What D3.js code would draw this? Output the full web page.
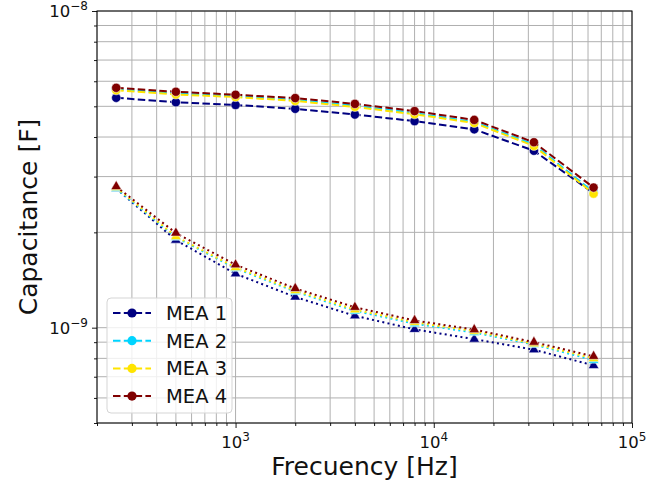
<!DOCTYPE html>
<html><head><meta charset="utf-8">
<script src="https://cdn.jsdelivr.net/npm/d3@7"></script>
<style>body{margin:0;background:#fff}svg{display:block;font-family:"DejaVu Sans",sans-serif}</style>
</head><body><svg id="c" width="648" height="482"></svg>
<script>
const frequencies = [250, 500, 1000, 2000, 4000, 8000, 16000, 32000, 64000];
const seriesNames = ["MEA 1", "MEA 2", "MEA 3", "MEA 4"];
const seriesColors = ["#000080", "#00d4ff", "#ffe400", "#800000"];
// upper group (circles, dashed), in nF
const circleValues = [
  [5.32, 5.15, 5.05, 4.91, 4.71, 4.49, 4.23, 3.62, 2.66],
  [5.66, 5.49, 5.38, 5.24, 5.02, 4.76, 4.46, 3.79, 2.68],
  [5.62, 5.45, 5.35, 5.20, 4.98, 4.72, 4.43, 3.75, 2.65],
  [5.72, 5.56, 5.44, 5.31, 5.09, 4.83, 4.53, 3.85, 2.77]
];
// lower group (triangles, dotted), in nF
const triangleValues = [
  [2.75, 1.89, 1.48, 1.25, 1.09, 0.988, 0.92, 0.852, 0.76],
  [2.75, 1.93, 1.54, 1.30, 1.13, 1.03, 0.965, 0.885, 0.79],
  [2.77, 1.94, 1.55, 1.31, 1.14, 1.04, 0.975, 0.89, 0.80],
  [2.79, 1.99, 1.58, 1.33, 1.16, 1.054, 0.986, 0.90, 0.812]
];
const xMajorTicks = [1e3, 1e4, 1e5];
const xTickExps = ["3", "4", "5"];
const yMajorTicks = [1e-9, 1e-8];
const yTickExps = ["\u22129", "\u22128"];
const xLabel = "Frecuency [Hz]";
const yLabel = "Capacitance [F]";

const L = 97, R = 632, T = 11, B = 423;
const svg = d3.select("#c");
const x = d3.scaleLog().domain([200, 1e5]).range([L, R]);
const y = d3.scaleLog().domain([5e-10, 1e-8]).range([B, T]);

const xMinor = [];
for (let e = 2; e <= 4; e++) for (let m = 2; m <= 9; m++) { const v = m * Math.pow(10, e); if (v >= 200 && v < 1e5) xMinor.push(v); }
const yMinor = [];
for (let e = -10; e <= -9; e++) for (let m = 2; m <= 9; m++) { const v = m * Math.pow(10, e); if (v >= 5e-10 && v < 1e-8) yMinor.push(v); }

const grid = svg.append("g");
grid.selectAll(".gx").data(xMinor.concat(xMajorTicks)).join("line")
  .attr("x1", d => x(d)).attr("x2", d => x(d)).attr("y1", T).attr("y2", B)
  .attr("stroke", "#b0b0b0").attr("stroke-width", 1);
grid.selectAll(".gy").data(yMinor.concat(yMajorTicks)).join("line")
  .attr("y1", d => y(d)).attr("y2", d => y(d)).attr("x1", L).attr("x2", R)
  .attr("stroke", "#b0b0b0").attr("stroke-width", 1);

const xAxis = d3.axisBottom(x).tickValues(xMajorTicks).tickSize(5).tickFormat("");
const xAxisMinor = d3.axisBottom(x).tickValues(xMinor).tickSize(3).tickFormat("");
const yAxis = d3.axisLeft(y).tickValues(yMajorTicks).tickSize(5).tickFormat("");
const yAxisMinor = d3.axisLeft(y).tickValues(yMinor).tickSize(3).tickFormat("");
[xAxis, xAxisMinor].forEach(a => {
  const g = svg.append("g").attr("transform", `translate(0,${B})`).call(a);
  g.select(".domain").remove(); g.selectAll("line").attr("stroke", "#000").attr("stroke-width", 0.9);
});
[yAxis, yAxisMinor].forEach(a => {
  const g = svg.append("g").attr("transform", `translate(${L},0)`).call(a);
  g.select(".domain").remove(); g.selectAll("line").attr("stroke", "#000").attr("stroke-width", 0.9);
});

xMajorTicks.forEach((v, i) => {
  const t = svg.append("text").attr("x", x(v)).attr("y", 448).attr("text-anchor", "middle")
    .attr("font-size", 16.5).attr("fill", "#111");
  t.append("tspan").text("10");
  t.append("tspan").attr("dy", -7).attr("font-size", 12).text(xTickExps[i]);
});
yMajorTicks.forEach((v, i) => {
  const t = svg.append("text").attr("x", 88).attr("y", y(v) + 6).attr("text-anchor", "end")
    .attr("font-size", 16.5).attr("fill", "#111");
  t.append("tspan").text("10");
  t.append("tspan").attr("dy", -7).attr("font-size", 12).text(yTickExps[i]);
});

const line = d3.line().x((d, i) => x(frequencies[i])).y(d => y(d * 1e-9));
const tri = d3.symbol().type(d3.symbolTriangle).size(48);

const plot = svg.append("g");
seriesNames.forEach((name, s) => {
  const c = seriesColors[s];
  plot.append("path").datum(circleValues[s]).attr("d", line).attr("fill", "none")
    .attr("stroke", c).attr("stroke-width", 2).attr("stroke-dasharray", "7.5,3.3");
  plot.selectAll(null).data(circleValues[s]).join("circle")
    .attr("cx", (d, i) => x(frequencies[i])).attr("cy", d => y(d * 1e-9)).attr("r", 4.6)
    .attr("fill", c).attr("stroke", "#fff").attr("stroke-width", 0.5);
  plot.append("path").datum(triangleValues[s]).attr("d", line).attr("fill", "none")
    .attr("stroke", c).attr("stroke-width", 2).attr("stroke-dasharray", "2,3.3");
  plot.selectAll(null).data(triangleValues[s]).join("path")
    .attr("d", tri).attr("transform", (d, i) => `translate(${x(frequencies[i])},${y(d * 1e-9)})`)
    .attr("fill", c).attr("stroke", "#fff").attr("stroke-width", 0.5);
});

svg.append("rect").attr("x", L).attr("y", T).attr("width", R - L).attr("height", B - T)
  .attr("fill", "none").attr("stroke", "#000").attr("stroke-width", 1);

const lg = svg.append("g");
lg.append("rect").attr("x", 107).attr("y", 298).attr("width", 125).attr("height", 115)
  .attr("rx", 4).attr("fill", "#fff").attr("fill-opacity", 0.8).attr("stroke", "#d5d5d5");
seriesNames.forEach((name, s) => {
  const yy = 313 + s * 27.7;
  lg.append("line").attr("x1", 113).attr("x2", 151).attr("y1", yy).attr("y2", yy)
    .attr("stroke", seriesColors[s]).attr("stroke-width", 2).attr("stroke-dasharray", "7.5,3.3");
  lg.append("circle").attr("cx", 132).attr("cy", yy).attr("r", 4.6).attr("fill", seriesColors[s]);
  lg.append("text").attr("x", 166).attr("y", yy + 7).attr("font-size", 19.5).attr("fill", "#111").text(name);
});

svg.append("text").attr("x", (L + R) / 2).attr("y", 475).attr("text-anchor", "middle")
  .attr("font-size", 25).attr("fill", "#111").text(xLabel);
svg.append("text").attr("transform", `translate(37,${(T + B) / 2}) rotate(-90)`).attr("text-anchor", "middle")
  .attr("font-size", 25).attr("fill", "#111").text(yLabel);
</script></body></html>
